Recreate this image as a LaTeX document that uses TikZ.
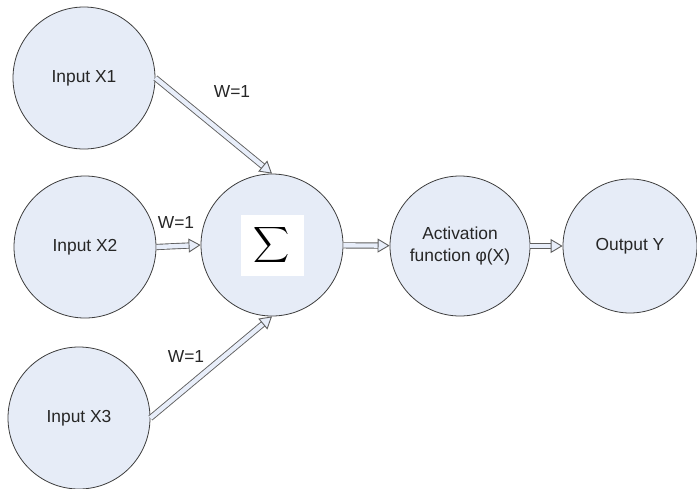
\documentclass[tikz,border=0pt]{standalone}
\usepackage{fontspec}
\setmainfont{Liberation Sans}
\usetikzlibrary{arrows.meta}
\definecolor{cellfill}{RGB}{230,236,247}
\definecolor{cellline}{RGB}{60,60,60}
\definecolor{wirefill}{RGB}{232,238,250}
\definecolor{wireline}{RGB}{95,95,95}

\begin{document}
\begin{tikzpicture}[x=0.5pt, y=-0.5pt,
    every node/.style={font=\fontsize{8.7}{11}\selectfont, text=black!85},
    % Estilos
    neuron/.style={
        circle, draw=cellline, line width=0.4pt, fill=cellfill,
        minimum size=#1, inner sep=0pt, align=center
    },
    neuron/.default=71pt,
    conn/.style={
        draw=wireline, line width=0.45pt, double=wirefill,
        double distance=2.2pt,
        -{Triangle[open, fill=wirefill, length=6pt, width=7pt, line width=0.45pt]}
    },
    lbl/.style={
        text=black!85
    }
]
\useasboundingbox (0,0) rectangle (697,488);

% =============================================
% ENTRADAS (columna izquierda)
% =============================================
\node[neuron] (in1) at (84, 78)  {Input X1};
\node[neuron] (in2) at (85, 247) {Input X2};
\node[neuron] (in3) at (79, 418) {Input X3};

% =============================================
% SUMA
% =============================================
\node[neuron] (sum) at (272, 245) {};
\node[fill=white, minimum width=31.5pt, minimum height=30.5pt, inner sep=0pt,
      text=black] (sig) at (sum.center) {\scalebox{1.25}{$\displaystyle\sum$}};

\draw[conn] (in1.east) -- (sum.north);
\draw[conn] (in2.east) -- (sum.west);
\draw[conn] (in3.east) -- (sum.south);

\node[lbl] (w1) at (232, 92)  {W=1};
\node[lbl] (w2) at (176, 223) {W=1};
\node[lbl] (w3) at (186, 357) {W=1};

% =============================================
% ACTIVACION Y SALIDA
% =============================================
\node[neuron=70pt] (act) at (460, 246) {Activation\\function φ(X)};
\node[neuron=67pt] (out) at (630, 246) {Output Y};

\draw[conn] (sum) -- (act);
\draw[conn] (act) -- (out);

\end{tikzpicture}
\end{document}
